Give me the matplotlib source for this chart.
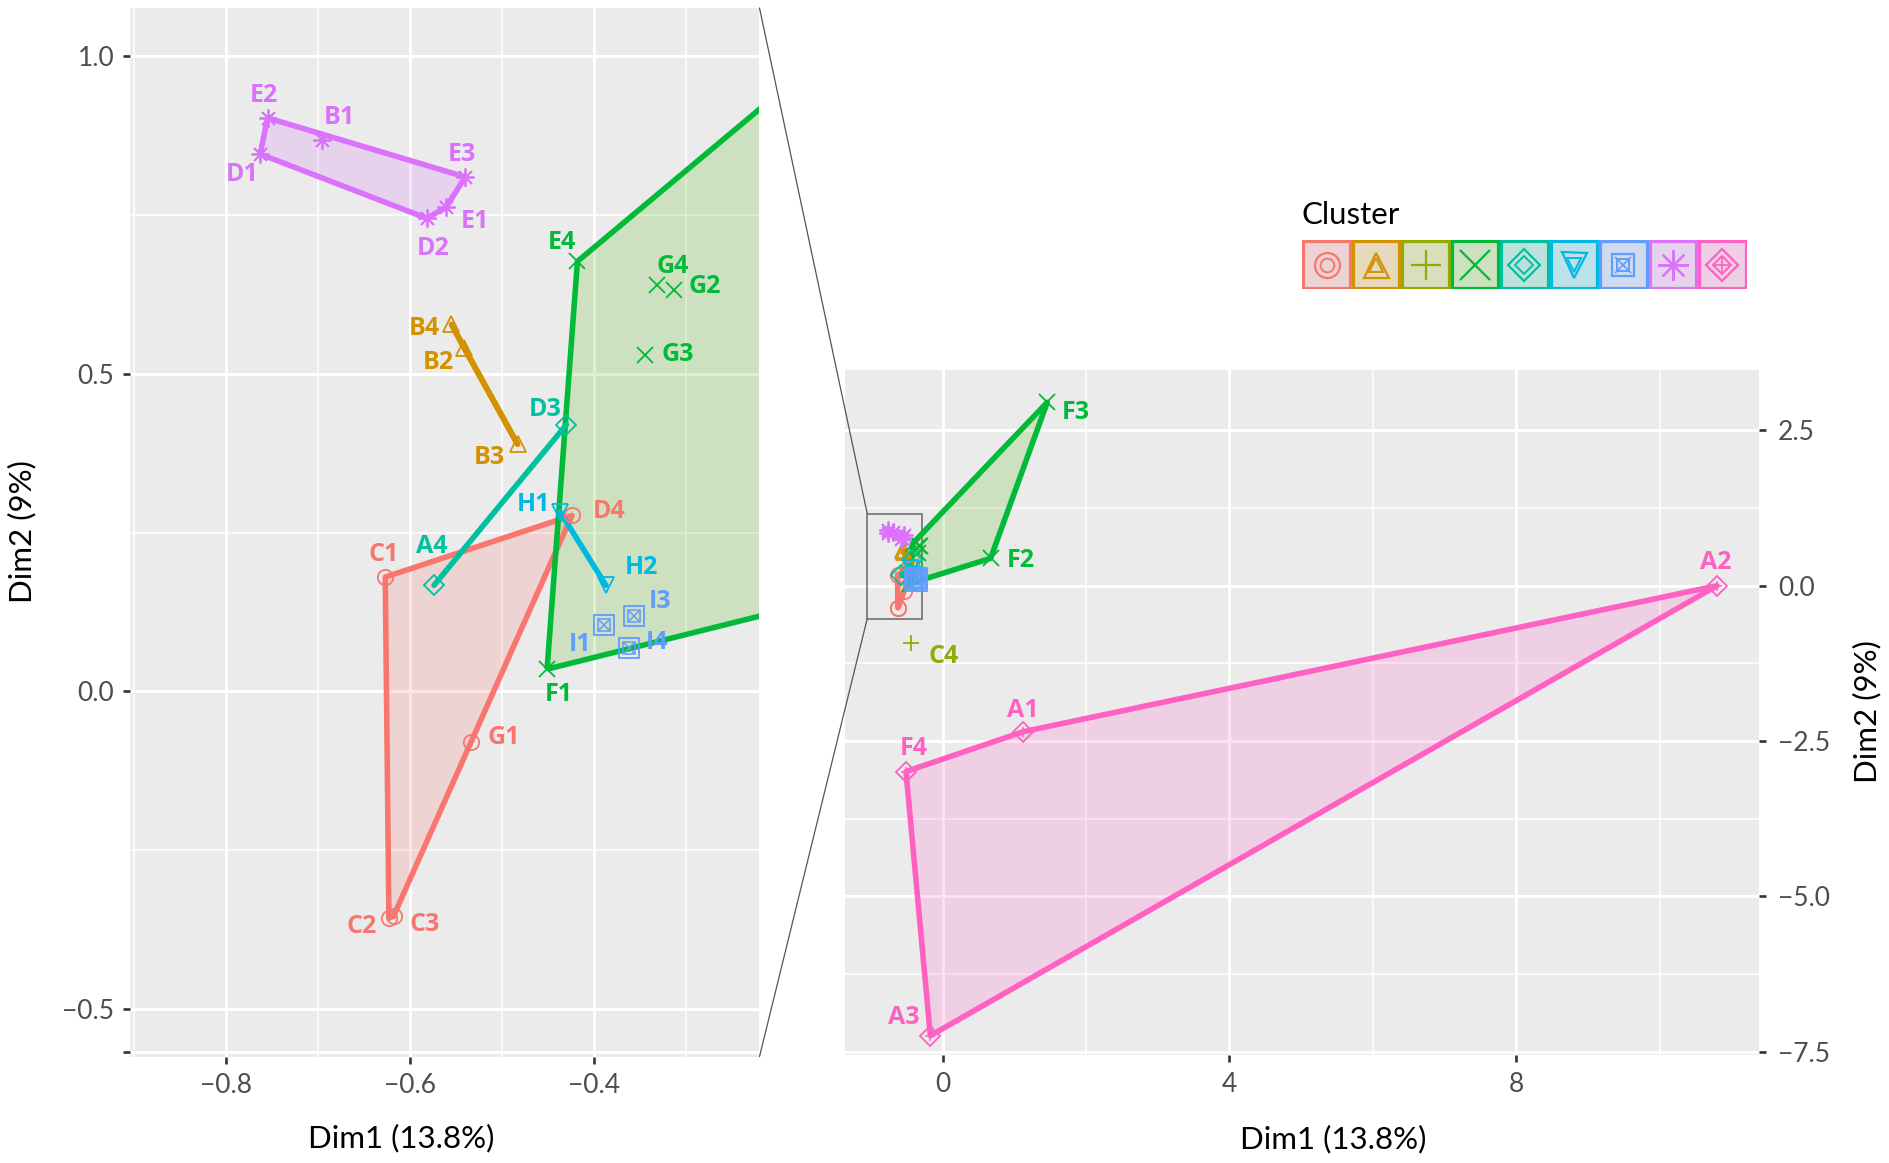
import matplotlib
matplotlib.use('Agg')
import matplotlib.pyplot as plt
from matplotlib.patches import Rectangle, Polygon, ConnectionPatch
from matplotlib.ticker import FixedLocator

plt.rcParams['font.family'] = ['Lato', 'DejaVu Sans']

# ---------------- data ----------------
labels = ['E2', 'B1', 'D1', 'E3', 'E1', 'D2',
          'E4', 'G4', 'G2', 'G3', 'F1', 'F2', 'F3',
          'B4', 'B2', 'B3',
          'D3', 'A4',
          'H1', 'H2',
          'I1', 'I3', 'I4',
          'C1', 'D4', 'G1', 'C2', 'C3',
          'C4',
          'A1', 'A2', 'A3', 'F4']
dim1 = [-0.755, -0.696, -0.763, -0.540, -0.561, -0.582,
        -0.418, -0.331, -0.313, -0.344, -0.451, 0.670, 1.460,
        -0.555, -0.541, -0.483,
        -0.430, -0.574,
        -0.437, -0.387,
        -0.389, -0.357, -0.362,
        -0.627, -0.424, -0.534, -0.623, -0.618,
        -0.444,
        1.120, 10.800, -0.170, -0.510]
dim2 = [0.903, 0.868, 0.846, 0.810, 0.762, 0.745,
        0.677, 0.640, 0.632, 0.530, 0.035, 0.440, 2.950,
        0.578, 0.540, 0.389,
        0.420, 0.167,
        0.283, 0.167,
        0.104, 0.118, 0.068,
        0.180, 0.277, -0.079, -0.357, -0.354,
        -0.918,
        -2.350, 0.000, -7.240, -2.990]
cluster = [8, 8, 8, 8, 8, 8,
           4, 4, 4, 4, 4, 4, 4,
           2, 2, 2,
           5, 5,
           6, 6,
           7, 7, 7,
           1, 1, 1, 1, 1,
           3,
           9, 9, 9, 9]

cluster_ids = [1, 2, 3, 4, 5, 6, 7, 8, 9]
hull_clusters = [1, 2, 4, 5, 6, 8, 9]
right_panel_labels = ['F3', 'F2', 'A2', 'A1', 'F4', 'A3', 'C4']

x_label = 'Dim1 (13.8%)'
y_label = 'Dim2 (9%)'
legend_title = 'Cluster'

left_xticks = [-0.8, -0.6, -0.4]
left_xminor = [-0.9, -0.7, -0.5, -0.3]
left_yticks = [-0.567, -0.5, 0.0, 0.5, 1.0]
left_ytick_labels = ['', '\u22120.5', '0.0', '0.5', '1.0']
left_yminor = [-0.25, 0.25, 0.75]
right_xticks = [0, 4, 8]
right_xminor = [2, 6, 10]
right_yticks = [-7.5, -5.0, -2.5, 0.0, 2.5]
right_yminor = [-6.25, -3.75, -1.25, 1.25]
zoom_x = (-1.05, -0.28)
zoom_y = (-0.53, 1.16)

# ---------------- style ----------------
cluster_colors = ['#F8766D', '#D39200', '#93AA00', '#00BA38', '#00C19F',
                  '#00B9E3', '#619CFF', '#DB72FB', '#FF61C3']
cluster_fills = ['#F8766D', '#D39200', '#93AA00', '#55B510', '#00C19F',
                 '#00B9E3', '#619CFF', '#DB72FB', '#FF61C3']
cluster_markers = ['o', '^', '+', 'x', 'D', 'v', 's', (8, 2, 0), 'D']
cluster_overlay = [[], [], [], [], [], [], [('s', 0.6), ('x', 0.6)], [], [('+', 0.75)]]
marker_sizes = [11, 11, 12, 11, 10, 11, 15, 13, 10]
LABEL_FAMILY = ['Open Sans', 'DejaVu Sans']

# label offsets (pixels: right, down) from point
left_offsets = {
    'E2': (-4, -25), 'B1': (18, -25), 'D1': (-18, 18), 'E3': (-3, -25),
    'E1': (29, 12), 'D2': (7, 28), 'E4': (-16, -21), 'G4': (15, -21),
    'G2': (31, -6), 'G3': (32, -3), 'B4': (-27, 2), 'B2': (-26, 12),
    'B3': (-28, 11), 'D3': (-21, -18), 'H1': (-26, -10), 'D4': (37, -6),
    'C1': (-2, -25), 'A4': (-2, -41), 'H2': (36, -20), 'I3': (27, -17),
    'I1': (-24, 17), 'I4': (28, -8), 'F1': (12, 23), 'G1': (33, -7),
    'C2': (-27, 6), 'C3': (31, 6),
}
right_offsets = {
    'F3': (29, 8), 'F2': (30, 0), 'A2': (-1, -26), 'A1': (0, -24),
    'F4': (8, -25), 'A3': (-27, -21), 'C4': (33, 11),
}

W, H = 1890, 1163
fig = plt.figure(figsize=(W / 100, H / 100), dpi=100)


def fig_rect(l, t, r, b):
    return [l / W, 1 - b / H, (r - l) / W, (b - t) / H]


ax1 = fig.add_axes(fig_rect(129.6, 8, 759.5, 1056.6))
ax2 = fig.add_axes(fig_rect(845, 370, 1758.7, 1055))

ax1.set_xlim(-0.905, -0.22)
ax1.set_ylim(-0.575, 1.076)
ax2.set_xlim(-1.36, 11.38)
ax2.set_ylim(-7.55, 3.47)


def convex_hull(pts):
    pts = sorted(set(pts))
    if len(pts) <= 2:
        return pts

    def cross(o, a, b):
        return (a[0] - o[0]) * (b[1] - o[1]) - (a[1] - o[1]) * (b[0] - o[0])
    lower = []
    for p in pts:
        while len(lower) >= 2 and cross(lower[-2], lower[-1], p) <= 0:
            lower.pop()
        lower.append(p)
    upper = []
    for p in reversed(pts):
        while len(upper) >= 2 and cross(upper[-2], upper[-1], p) <= 0:
            upper.pop()
        upper.append(p)
    return lower[:-1] + upper[:-1]


LABEL_FS = 18
CAP_HALF = LABEL_FS * 0.714 * 100 / 72 / 2
HULL_LW = 4.0


def style_axes(ax, xt, xm, yt, ym, ylabels=None):
    ax.set_facecolor('#EBEBEB')
    for s in ax.spines.values():
        s.set_visible(False)
    ax.xaxis.set_major_locator(FixedLocator(xt))
    ax.xaxis.set_minor_locator(FixedLocator(xm))
    ax.yaxis.set_major_locator(FixedLocator(yt))
    ax.yaxis.set_minor_locator(FixedLocator(ym))
    ax.set_xticklabels([('%g' % v).replace('-', '\u2212') for v in xt])
    if ylabels is None:
        ylabels = ['%.1f' % v for v in yt]
        ylabels = [s.replace('-', '\u2212') for s in ylabels]
    ax.set_yticklabels(ylabels)
    ax.grid(which='major', color='white', linewidth=2.2, zorder=0)
    ax.grid(which='minor', color='white', linewidth=1.1, zorder=0)
    ax.set_axisbelow(True)
    ax.tick_params(which='major', length=5, width=1.9, color='#333333',
                   labelcolor='#4D4D4D', labelsize=19)
    ax.tick_params(axis='x', which='major', pad=7)
    ax.tick_params(which='minor', length=0)


def draw(ax, label_filter, offsets):
    for k, cid in enumerate(cluster_ids):
        idx = [i for i, c in enumerate(cluster) if c == cid]
        col = cluster_colors[k]
        if cid in hull_clusters and len(idx) >= 2:
            hull = convex_hull([(dim1[i], dim2[i]) for i in idx])
            if len(hull) >= 3:
                ax.add_patch(Polygon(hull, closed=True, facecolor=cluster_fills[k],
                                     alpha=0.2, edgecolor='none', zorder=2))
                ax.add_patch(Polygon(hull, closed=True, fill=False, edgecolor=col,
                                     linewidth=HULL_LW, joinstyle='round', zorder=2.5))
            else:
                ax.plot([p[0] for p in hull], [p[1] for p in hull], color=col,
                        linewidth=HULL_LW, solid_capstyle='round', zorder=2.5)
    for k, cid in enumerate(cluster_ids):
        idx = [i for i, c in enumerate(cluster) if c == cid]
        col = cluster_colors[k]
        xs = [dim1[i] for i in idx]
        ys = [dim2[i] for i in idx]
        ax.plot(xs, ys, linestyle='none', marker=cluster_markers[k],
                markersize=marker_sizes[k], markerfacecolor='none',
                markeredgecolor=col, markeredgewidth=1.3, zorder=4)
        for om, sc in cluster_overlay[k]:
            ax.plot(xs, ys, linestyle='none', marker=om,
                    markersize=marker_sizes[k] * sc, markerfacecolor='none',
                    markeredgecolor=col, markeredgewidth=1.1, zorder=4)
        for i in idx:
            lab = labels[i]
            if not label_filter(i):
                continue
            dx, dy = offsets[lab]
            ax.annotate(lab, (dim1[i], dim2[i]), xytext=(dx, -(dy + CAP_HALF)),
                        textcoords='offset pixels', ha='center', va='baseline',
                        color=col, fontsize=LABEL_FS, fontweight='bold',
                        family=LABEL_FAMILY, zorder=5)


style_axes(ax1, left_xticks, left_xminor, left_yticks, left_yminor, left_ytick_labels)
style_axes(ax2, right_xticks, right_xminor, right_yticks, right_yminor)
ax1.tick_params(axis='y', which='major', pad=6)
ax2.yaxis.tick_right()
ax2.tick_params(axis='y', which='major', pad=9)

x0, x1 = ax1.get_xlim()
y0, y1 = ax1.get_ylim()
draw(ax1, lambda i: (x0 < dim1[i] < x1 and y0 < dim2[i] < y1), left_offsets)
draw(ax2, lambda i: labels[i] in right_panel_labels, right_offsets)

ax2.add_patch(Rectangle((zoom_x[0], zoom_y[0]), zoom_x[1] - zoom_x[0],
                        zoom_y[1] - zoom_y[0], fill=False, edgecolor='#666666',
                        linewidth=1.1, zorder=1.5))

for ya, yb in [(1, zoom_y[1]), (0, zoom_y[0])]:
    con = ConnectionPatch(xyA=(1, ya), coordsA=ax1.transAxes,
                          xyB=(zoom_x[0], yb), coordsB=ax2.transData,
                          color='#555555', linewidth=0.9)
    fig.add_artist(con)

TITLE_FS = 22.5
# axis titles
fig.text(401 / W, 1 - 1147 / H, x_label, ha='center', va='baseline',
         fontsize=TITLE_FS, color='black')
fig.text(1333 / W, 1 - 1148 / H, x_label, ha='center', va='baseline',
         fontsize=TITLE_FS, color='black')
fig.text(22 / W, 1 - 532 / H, y_label, ha='center', va='center',
         rotation=90, fontsize=TITLE_FS, color='black')
fig.text(1867 / W, 1 - 712 / H, y_label, ha='center', va='center',
         rotation=90, fontsize=TITLE_FS, color='black')

# legend
fig.text(1302 / W, 1 - 224 / H, legend_title, ha='left', va='baseline',
         fontsize=TITLE_FS, color='black')
lax = fig.add_axes(fig_rect(1302, 240, 1747, 289))
lax.set_xlim(0, 9)
lax.set_ylim(0, 1)
lax.axis('off')
for k, cid in enumerate(cluster_ids):
    col = cluster_colors[k]
    lax.add_patch(Rectangle((k + 0.03, 0.03), 0.94, 0.94, facecolor='#EBEBEB',
                            edgecolor='none', zorder=1))
    lax.add_patch(Rectangle((k + 0.03, 0.03), 0.94, 0.94, facecolor=cluster_fills[k],
                            alpha=0.2, edgecolor='none', zorder=2))
    lax.add_patch(Rectangle((k + 0.03, 0.03), 0.94, 0.94, fill=False,
                            edgecolor=col, linewidth=2.3, zorder=3))
    m = cluster_markers[k]
    single = m in ('+', 'x') or isinstance(m, tuple)
    if single:
        lax.plot([k + 0.5], [0.5], marker=m, markersize=22, markerfacecolor='none',
                 markeredgecolor=col, markeredgewidth=1.6, zorder=4)
    else:
        big = 18 if m not in ('D', 's') else 16
        lax.plot([k + 0.5], [0.5], marker=m, markersize=big, markerfacecolor='none',
                 markeredgecolor=col, markeredgewidth=1.6, zorder=4)
        lax.plot([k + 0.5], [0.5], marker=m, markersize=big * 0.55,
                 markerfacecolor='none', markeredgecolor=col,
                 markeredgewidth=1.4, zorder=4)
        for om, sc in cluster_overlay[k]:
            if om == m:
                continue
            lax.plot([k + 0.5], [0.5], marker=om, markersize=big * 0.75,
                     markeredgecolor=col, markeredgewidth=1.2, zorder=4)

fig.savefig('out.png', dpi=100)
